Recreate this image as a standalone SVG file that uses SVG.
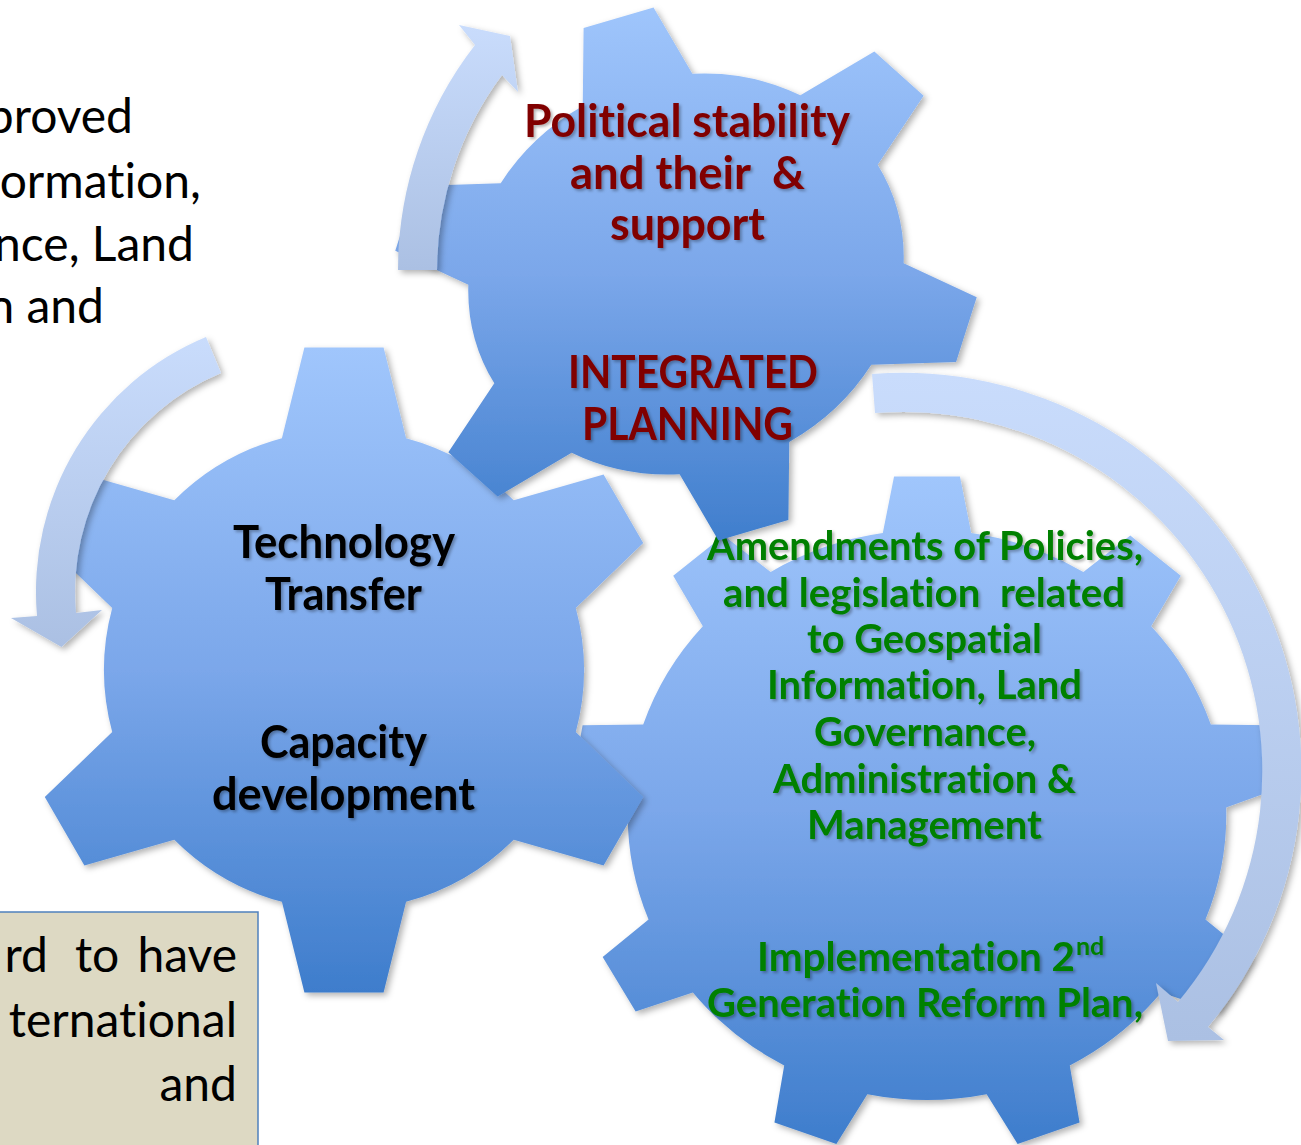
<svg xmlns="http://www.w3.org/2000/svg" xmlns:xlink="http://www.w3.org/1999/xlink" width="1301" height="1145" viewBox="0 0 1301 1145">
<style>
text{font-variant-ligatures:none;font-feature-settings:"liga" 0,"clig" 0}
.gt{font-family:Lato,"Liberation Sans",sans-serif;font-weight:700;font-size:46px;text-anchor:middle}
.red{fill:#800000}
.grn{fill:#008000;font-size:41px}
.blk{fill:#000}
.body{font-family:Lato,"Liberation Sans",sans-serif;font-weight:400;font-size:48px;fill:#000}
.end{text-anchor:end}
.pre{white-space:pre}
</style>
<defs>
<linearGradient id="gearGrad" x1="0" y1="0" x2="0" y2="1">
<stop offset="0" stop-color="#A0C6FC"/>
<stop offset="0.5" stop-color="#7BA7EA"/>
<stop offset="1" stop-color="#3E7DCC"/>
</linearGradient>
<linearGradient id="arrowGrad" x1="0" y1="0" x2="0" y2="1">
<stop offset="0" stop-color="#C9DCFC"/>
<stop offset="1" stop-color="#ABC0E3"/>
</linearGradient>
<filter id="shadow" x="-10%" y="-10%" width="130%" height="130%">
<feDropShadow dx="3" dy="3" stdDeviation="3" flood-color="#000" flood-opacity="0.3"/>
</filter>
<filter id="txtShadow" x="-10%" y="-20%" width="130%" height="160%">
<feDropShadow dx="2" dy="2" stdDeviation="1.5" flood-color="#000" flood-opacity="0.3"/>
</filter>
<path id="gear6" d="M-62.1,-231.8 L-39.6,-322.6 L39.6,-322.6 L62.1,-231.8 A240,240 0 0 1 169.7,-169.7 L259.6,-195.6 L299.2,-127 L231.8,-62.1 A240,240 0 0 1 231.8,62.1 L299.2,127 L259.6,195.6 L169.7,169.7 A240,240 0 0 1 62.1,231.8 L39.6,322.6 L-39.6,322.6 L-62.1,231.8 A240,240 0 0 1 -169.7,169.7 L-259.6,195.6 L-299.2,127 L-231.8,62.1 A240,240 0 0 1 -231.8,-62.1 L-299.2,-127 L-259.6,-195.6 L-169.7,-169.7 A240,240 0 0 1 -62.1,-231.8 Z"/>
<path id="gear9" d="M-42.1,-281.9 L-31.4,-338.5 L31.4,-338.5 L42.1,-281.9 A285,285 0 0 1 148.9,-243 L193.6,-279.5 L241.7,-239.2 L213.5,-188.8 A285,285 0 0 1 270.3,-90.4 L328,-89.7 L338.9,-27.9 L284.9,-7.5 A285,285 0 0 1 265.2,104.5 L308.9,142.1 L277.5,196.5 L223,177.4 A285,285 0 0 1 136,250.5 L145.3,307.4 L86.3,328.9 L56.8,279.3 A285,285 0 0 1 -56.8,279.3 L-86.3,328.9 L-145.3,307.4 L-136,250.5 A285,285 0 0 1 -223,177.4 L-277.5,196.5 L-308.9,142.1 L-265.2,104.5 A285,285 0 0 1 -284.9,-7.5 L-338.9,-27.9 L-328,-89.7 L-270.3,-90.4 A285,285 0 0 1 -213.5,-188.8 L-241.7,-239.2 L-193.6,-279.5 L-148.9,-243 A285,285 0 0 1 -42.1,-281.9 Z"/>
<clipPath id="topClip">
<use xlink:href="#gear6" href="#gear6" transform="matrix(0.883,-0.259,0.209,0.794,686,274)"/>
</clipPath>
</defs>

<rect width="1301" height="1145" fill="#fff"/>

<g id="left-text">
<text class="body end" x="133" y="133">proved</text>
<text class="body end" x="201" y="198">ormation,</text>
<text class="body end" x="194" y="261">nce, Land</text>
<text class="body end" x="104" y="323">n and</text>
</g>

<g id="note-box">
<rect x="-3" y="912" width="261" height="240" fill="#DDD9C3" stroke="#4F81BD" stroke-width="1.5"/>
<text class="body end" x="48" y="972">rd</text>
<text class="body" x="75" y="972">to</text>
<text class="body end" x="237" y="972">have</text>
<text class="body end" x="237" y="1037">ternational</text>
<text class="body end" x="237" y="1101">and</text>
</g>

<g id="gear-amendments">
<use xlink:href="#gear9" href="#gear9" transform="translate(927,815) scale(1.05,1)" fill="url(#gearGrad)" filter="url(#shadow)"/>
<g class="gt grn" filter="url(#txtShadow)">
<text x="925" y="560" textLength="436" lengthAdjust="spacingAndGlyphs">Amendments of Policies,</text>
<text class="pre" xml:space="preserve" x="924" y="607" textLength="402" lengthAdjust="spacingAndGlyphs">and legislation  related</text>
<text x="924.5" y="653" textLength="235" lengthAdjust="spacingAndGlyphs">to Geospatial</text>
<text x="924.5" y="699" textLength="315" lengthAdjust="spacingAndGlyphs">Information, Land</text>
<text x="925" y="746" textLength="222" lengthAdjust="spacingAndGlyphs">Governance,</text>
<text x="924.5" y="793" textLength="303" lengthAdjust="spacingAndGlyphs">Administration &amp;</text>
<text x="924.5" y="839" textLength="235" lengthAdjust="spacingAndGlyphs">Management</text>
<text x="757" y="971" style="text-anchor:start" textLength="318" lengthAdjust="spacingAndGlyphs">Implementation 2</text>
<text x="1076" y="955" style="text-anchor:start;font-size:25px">nd</text>
<text x="925" y="1017" textLength="436" lengthAdjust="spacingAndGlyphs">Generation Reform Plan,</text>
</g>
</g>

<g id="gear-technology">
<use xlink:href="#gear6" href="#gear6" transform="translate(344,670)" fill="url(#gearGrad)" filter="url(#shadow)"/>
<g class="gt blk" filter="url(#txtShadow)">
<text x="344" y="558" textLength="222" lengthAdjust="spacingAndGlyphs">Technology</text>
<text x="343.5" y="610" textLength="157" lengthAdjust="spacingAndGlyphs">Transfer</text>
<text x="343.5" y="758" textLength="167" lengthAdjust="spacingAndGlyphs">Capacity</text>
<text x="343.5" y="810" textLength="263" lengthAdjust="spacingAndGlyphs">development</text>
</g>
</g>

<g id="gear-political">
<g filter="url(#shadow)">
<rect x="370" y="0" width="640" height="548" fill="url(#gearGrad)" clip-path="url(#topClip)"/>
</g>
<g class="gt red" filter="url(#txtShadow)">
<text x="687" y="137" textLength="326" lengthAdjust="spacingAndGlyphs">Political stability</text>
<text class="pre" xml:space="preserve" x="687.5" y="189" textLength="235" lengthAdjust="spacingAndGlyphs">and their  &amp;</text>
<text x="687.5" y="240" textLength="155" lengthAdjust="spacingAndGlyphs">support</text>
<text x="693" y="388" textLength="250" lengthAdjust="spacingAndGlyphs">INTEGRATED</text>
<text x="687.5" y="440" textLength="211" lengthAdjust="spacingAndGlyphs">PLANNING</text>
</g>
</g>

<g id="connectors" fill="url(#arrowGrad)" filter="url(#shadow)">
<path id="arrow-top" d="M398,270 A367,367 0 0 1 475,45 L459,25 L510,36 L518,92 L502,75 A328,328 0 0 0 437,270 Z"/>
<path id="arrow-left" d="M206,337 A276,276 0 0 0 37,616 L11,618 L61.5,647 L102,610 L76,613 A237,237 0 0 1 221,373 Z"/>
<path id="arrow-right" d="M872,374 A398,398 0 0 1 1208,1027 L1224,1040 L1168,1041 L1156,983 L1178,1002 A359,359 0 0 0 875,413 Z"/>
</g>
</svg>
